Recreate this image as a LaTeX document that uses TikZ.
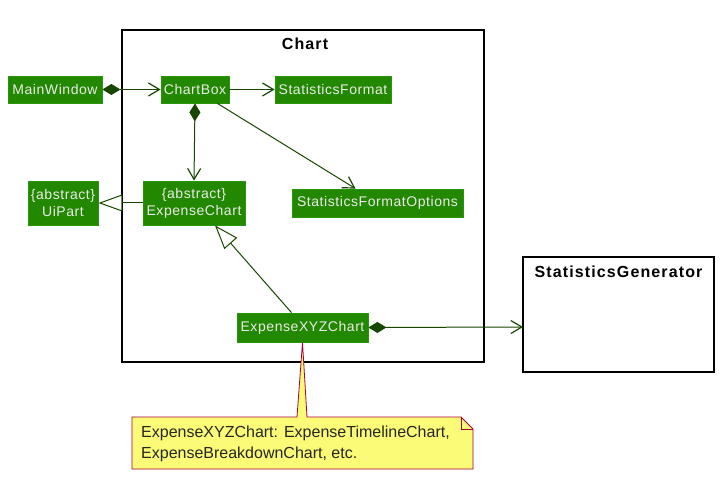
\documentclass[tikz,border=0pt]{standalone}
\usepackage{fontspec}
\setmainfont{Liberation Sans}
\newfontfamily\clsfont[LetterSpace=4]{Liberation Sans}
\newfontfamily\ttlfont[LetterSpace=7]{Liberation Sans}
\usetikzlibrary{arrows.meta,calc}
\definecolor{clsfill}{RGB}{34,136,0}
\definecolor{clsline}{RGB}{40,150,10}
\definecolor{arr}{RGB}{22,70,0}
\definecolor{notefill}{RGB}{251,251,119}
\definecolor{noteline}{RGB}{168,0,54}
\tikzset{
  cls/.style={draw=clsline, fill=clsfill, text=white!92!black, font=\clsfont\fontsize{14}{17}\selectfont, inner sep=0pt, line width=0.8pt},
  pkg/.style={draw=black, line width=1.4pt},
  barb/.tip={Straight Barb[length=11pt,width=13pt,line width=1.2pt]},
  assoc/.style={draw=arr, line width=1pt, -barb},
  comp/.style={assoc, {Diamond[length=18pt,width=11pt,fill=arr]}-barb},
  gen/.style={draw=arr, line width=1pt, -{Triangle[open,length=24pt,width=17pt,fill=white,line width=1pt]}},
  ttl/.style={font=\ttlfont\bfseries\fontsize{16}{18}\selectfont, inner sep=0pt}
}
\begin{document}
\begin{tikzpicture}[x=1pt,y=-1pt]
\useasboundingbox (0,0) rectangle (726,484);
% packages
\draw[pkg] (122,30) rectangle (484,362);
\node[ttl] (charttitle) at (305,44) {Chart};
\draw[pkg] (523,257) rectangle (714,372);
\node[ttl] (sgtitle) at (618.5,272) {StatisticsGenerator};
\coordinate (sg) at (523,327);
% classes
\node[cls, minimum width=94pt, minimum height=27pt] (mw) at (55,89.5) {MainWindow};
\node[cls, minimum width=68pt, minimum height=27pt] (cb) at (195,89.5) {ChartBox};
\node[cls, minimum width=116pt, minimum height=27pt] (sf) at (333,89.5) {StatisticsFormat};
\node[cls, minimum width=70pt, minimum height=44pt, align=center] (ui) at (63,203) {\{abstract\}\\UiPart};
\node[cls, minimum width=102pt, minimum height=44pt, align=center] (ec) at (194,203) {\{abstract\}\\ExpenseChart};
\node[cls, minimum width=171pt, minimum height=28pt] (sfo) at (377.5,203) {StatisticsFormatOptions};
\node[cls, minimum width=131pt, minimum height=29pt] (xyz) at (302.5,327.5) {ExpenseXYZChart};
% connectors
\draw[comp] (mw.east) -- (cb.west);
\draw[assoc] (cb.east) -- (sf.west);
\draw[comp] (cb.south) -- (ec.north);
\draw[assoc] (cb.south east) ++(-12,0) -- ($(sfo.north)+(-22,0)$);
\draw[gen] (ec.west) -- (ui.east);
\draw[gen] ($(xyz.north)+(-11,0)$) -- ($(ec.south)+(21,0)$);
\draw[comp] (xyz.east) -- (sg);
% note
\coordinate (nt) at (132,417);
\draw[draw=noteline, fill=notefill, line width=0.8pt]
  (nt) -- (297,417) -- (xyz.south) -- (307,417) -- (461,417) -- (473,429) -- (473,469) -- (132,469) -- cycle;
\draw[draw=noteline, line width=0.8pt] (461,417) -- (461,429) -- (473,429);
\node[anchor=north west, align=left, font=\fontsize{16}{21}\selectfont, text=black!85, inner sep=0pt] (note) at (141,426) {ExpenseXYZChart: ExpenseTimelineChart,\\ExpenseBreakdownChart, etc.};
\end{tikzpicture}
\end{document}
